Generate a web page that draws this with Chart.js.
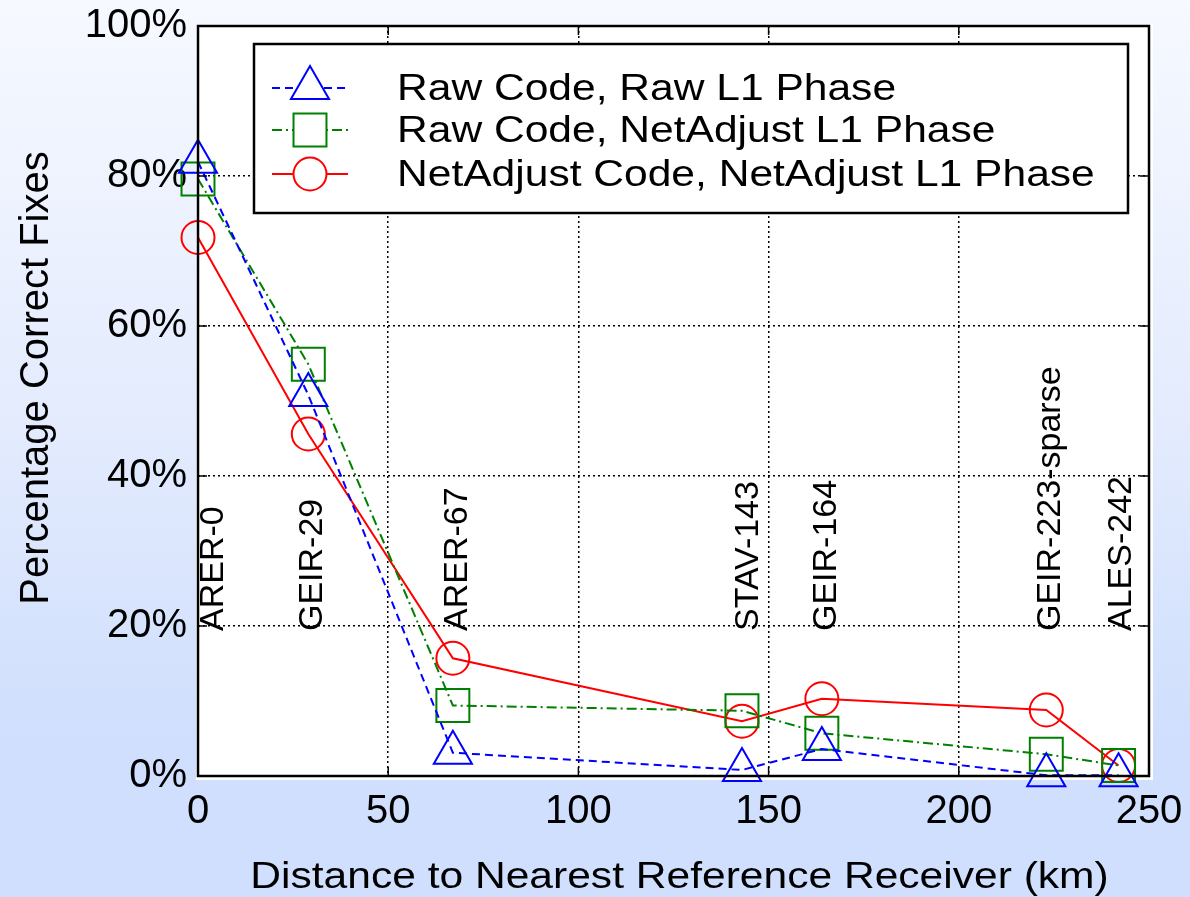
<!DOCTYPE html>
<html>
<head>
<meta charset="utf-8">
<script src="https://cdn.jsdelivr.net/npm/chart.js@4.4.1/dist/chart.umd.min.js"></script>
<style>
  html, body { margin: 0; padding: 0; }
  body {
    width: 1190px; height: 897px; overflow: hidden;
    background: linear-gradient(to bottom, #f6f9ff 0%, #e2eafd 50%, #cfdffd 82%, #cfdffd 100%);
  }
  #wrap { position: relative; width: 1190px; height: 897px; }
</style>
</head>
<body>
<div id="wrap"><canvas id="chart" width="1190" height="897"></canvas></div>
<script>
// ---- data ----
const distances = [0, 29, 67, 143, 164, 223, 242];
const rawRaw = [81.9, 50.8, 3.1, 0.8, 3.6, 0.1, 0.1];          // Raw Code, Raw L1 Phase
const rawNet = [79.6, 54.9, 9.4, 8.7, 5.7, 2.9, 1.4];          // Raw Code, NetAdjust L1 Phase
const netNet = [71.8, 45.6, 15.7, 7.3, 10.3, 8.8, 1.4];        // NetAdjust Code, NetAdjust L1 Phase
const seriesNames = ['Raw Code, Raw L1 Phase', 'Raw Code, NetAdjust L1 Phase', 'NetAdjust Code, NetAdjust L1 Phase'];
const stationNames = ['ARER-0', 'GEIR-29', 'ARER-67', 'STAV-143', 'GEIR-164', 'GEIR-223-sparse', 'ALES-242'];
const stationLabelX = [3.5, 29.5, 67.5, 144, 164.5, 223.5, 242];
const xTicks = [0, 50, 100, 150, 200, 250];
const yTicks = [0, 20, 40, 60, 80, 100];

const FONT = '"Liberation Sans", Arial, Helvetica, sans-serif';
const STRETCH = 1.15; // original figure text is a bit wide

const toPts = vals => distances.map((d, i) => ({ x: d, y: vals[i] }));

// white plot area + frame + inward ticks
const framePlugin = {
  id: 'frame',
  beforeDraw(chart) {
    const { ctx, chartArea: a } = chart;
    ctx.save();
    ctx.fillStyle = '#fff';
    ctx.fillRect(a.left - 2, a.top - 2, a.right - a.left + 6, a.bottom - a.top + 6);
    ctx.restore();
  },
  afterDraw(chart) {
    const { ctx, chartArea: a, scales } = chart;
    ctx.save();
    ctx.strokeStyle = '#000';
    ctx.lineWidth = 1.5;
    ctx.setLineDash([]);
    ctx.beginPath();
    xTicks.forEach(v => {
      const px = scales.x.getPixelForValue(v);
      ctx.moveTo(px, a.bottom); ctx.lineTo(px, a.bottom - 9);
      ctx.moveTo(px, a.top); ctx.lineTo(px, a.top + 9);
    });
    yTicks.forEach(v => {
      const py = scales.y.getPixelForValue(v);
      ctx.moveTo(a.left, py); ctx.lineTo(a.left + 9, py);
      ctx.moveTo(a.right, py); ctx.lineTo(a.right - 9, py);
    });
    ctx.stroke();
    ctx.lineWidth = 2.5;
    ctx.strokeRect(a.left, a.top, a.right - a.left, a.bottom - a.top);
    ctx.restore();
  }
};

// station names, axis titles, legend box
const annotPlugin = {
  id: 'annot',
  afterDatasetsDraw(chart) {
    const { ctx, scales } = chart;
    ctx.save();
    ctx.fillStyle = '#000';
    ctx.font = '34px ' + FONT;
    ctx.textAlign = 'left';
    ctx.textBaseline = 'alphabetic';
    const y0 = scales.y.getPixelForValue(20) + 5;
    stationNames.forEach((name, i) => {
      const px = scales.x.getPixelForValue(stationLabelX[i]) + 12;
      ctx.save();
      ctx.translate(px, y0);
      ctx.rotate(-Math.PI / 2);
      ctx.fillText(name, 0, 0);
      ctx.restore();
    });
    ctx.restore();
  },
  afterDraw(chart) {
    const { ctx, chartArea: a } = chart;
    ctx.save();
    ctx.fillStyle = '#000';
    // y title
    ctx.font = '40px ' + FONT;
    ctx.textAlign = 'center';
    ctx.textBaseline = 'alphabetic';
    ctx.save();
    ctx.translate(48, (a.top + a.bottom) / 2 - 23);
    ctx.rotate(-Math.PI / 2);
    ctx.fillText('Percentage Correct Fixes', 0, 0);
    ctx.restore();
    // x title
    ctx.font = '37px ' + FONT;
    ctx.save();
    ctx.translate((a.left + a.right) / 2 + 6, 888);
    ctx.scale(STRETCH, 1);
    ctx.fillText('Distance to Nearest Reference Receiver (km)', 0, 0);
    ctx.restore();

    // legend
    const bx = a.left + 56, by = a.top + 18, bw = 874, bh = 169;
    ctx.fillStyle = '#fff';
    ctx.fillRect(bx, by, bw, bh);
    ctx.strokeStyle = '#000';
    ctx.lineWidth = 2.5;
    ctx.strokeRect(bx, by, bw, bh);
    const rows = [by + 44, by + 86, by + 130];
    chart.data.datasets.forEach((ds, i) => {
      const ry = rows[i];
      ctx.save();
      ctx.strokeStyle = ds.borderColor;
      ctx.lineWidth = ds.borderWidth;
      ctx.setLineDash(ds.borderDash || []);
      ctx.beginPath();
      ctx.moveTo(bx + 18, ry); ctx.lineTo(bx + 94, ry);
      ctx.stroke();
      ctx.setLineDash([]);
      Chart.helpers.drawPoint(ctx, {
        pointStyle: ds.pointStyle, radius: ds.pointRadius, borderWidth: ds.pointBorderWidth, rotation: 0
      }, bx + 56, ry);
      ctx.restore();
      ctx.save();
      ctx.fillStyle = '#000';
      ctx.font = '37px ' + FONT;
      ctx.textAlign = 'left';
      ctx.textBaseline = 'middle';
      ctx.translate(bx + 143, ry + 2);
      ctx.scale(STRETCH, 1);
      ctx.fillText(seriesNames[i], 0, 0);
      ctx.restore();
    });
    ctx.restore();
  }
};

const mkSet = (label, vals, color, dash, style, r) => ({
  label,
  data: toPts(vals),
  borderColor: color,
  backgroundColor: 'rgba(0,0,0,0)',
  borderWidth: 2,
  borderDash: dash,
  pointStyle: style,
  pointRadius: r,
  pointHoverRadius: r,
  pointBorderWidth: 2,
  pointBorderColor: color,
  pointBackgroundColor: 'rgba(0,0,0,0)',
  tension: 0,
  clip: false
});

new Chart(document.getElementById('chart'), {
  type: 'line',
  data: {
    datasets: [
      mkSet(seriesNames[0], rawRaw, '#0000ff', [8, 5], 'triangle', 22),
      mkSet(seriesNames[1], rawNet, '#008000', [10, 4, 2, 4], 'rect', 23.3),
      mkSet(seriesNames[2], netNet, '#ff0000', [], 'circle', 16.5)
    ]
  },
  options: {
    responsive: false,
    animation: false,
    devicePixelRatio: 1,
    layout: { padding: { top: 26, right: 41, left: 0, bottom: 0 } },
    plugins: { legend: { display: false }, tooltip: { enabled: false } },
    scales: {
      x: {
        type: 'linear', min: 0, max: 250,
        afterFit: s => { s.height = 121; s.paddingLeft = 0; s.paddingRight = 0; },
        afterBuildTicks: s => { s.ticks = xTicks.map(v => ({ value: v })); },
        ticks: { color: '#000', font: { family: FONT, size: 40 }, padding: 12, maxRotation: 0 },
        grid: { color: '#000', lineWidth: 1.5, drawTicks: false },
        border: { display: false, dash: [2, 3] }
      },
      y: {
        min: 0, max: 100,
        afterFit: s => { s.width = 198; s.paddingTop = 0; s.paddingBottom = 0; },
        afterBuildTicks: s => { s.ticks = yTicks.map(v => ({ value: v })); },
        ticks: { color: '#000', font: { family: FONT, size: 40 }, padding: 11, callback: v => v + '%' },
        grid: { color: '#000', lineWidth: 1.5, drawTicks: false },
        border: { display: false, dash: [2, 3] }
      }
    }
  },
  plugins: [framePlugin, annotPlugin]
});
</script>
</body>
</html>
